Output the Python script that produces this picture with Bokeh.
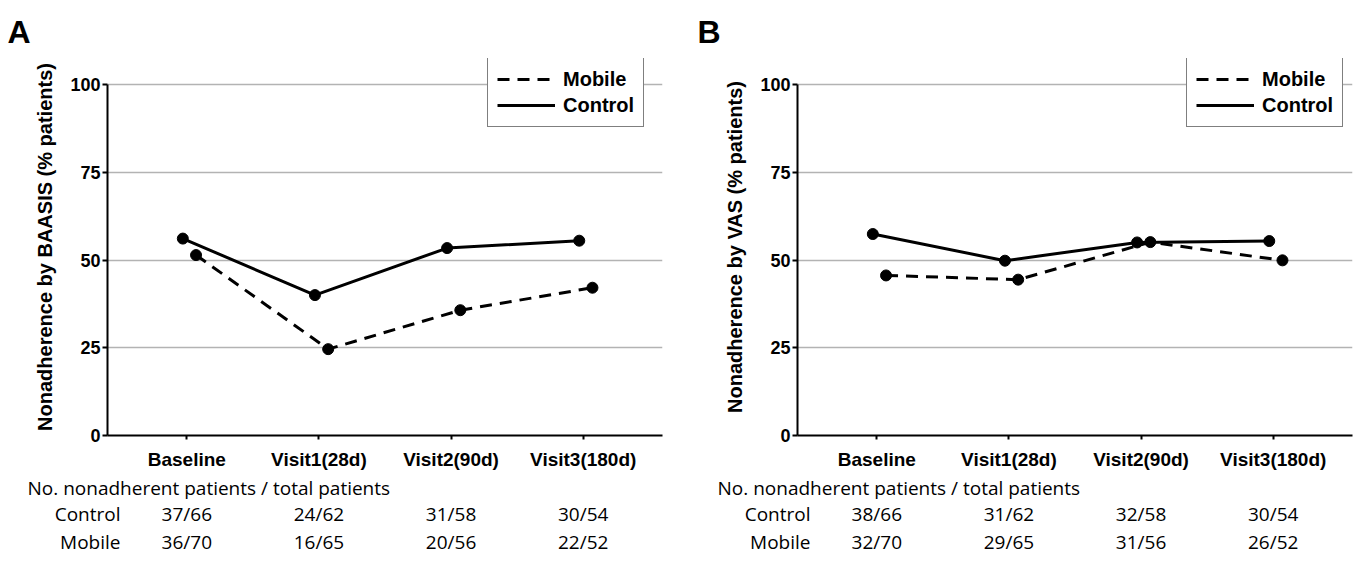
from bokeh.plotting import figure
from bokeh.models import FixedTicker, Legend, LegendItem, Range1d, Title
from bokeh.layouts import row, column
from bokeh.core.properties import value
from bokeh.embed import file_html
from bokeh.resources import INLINE

# ---------------- data ----------------
categories = ["Baseline", "Visit1(28d)", "Visit2(90d)", "Visit3(180d)"]
a_control = [56.1, 40.0, 53.4, 55.5]
a_mobile = [51.4, 24.6, 35.7, 42.1]
b_control = [57.4, 49.8, 55.0, 55.4]
b_mobile = [45.6, 44.4, 55.1, 49.9]
a_control_counts = ["37/66", "24/62", "31/58", "30/54"]
a_mobile_counts = ["36/70", "16/65", "20/56", "22/52"]
b_control_counts = ["38/66", "31/62", "32/58", "30/54"]
b_mobile_counts = ["32/70", "29/65", "31/56", "26/52"]
y_ticks = [0, 25, 50, 75, 100]
series_names = ["Mobile", "Control"]
table_title = "No. nonadherent patients / total patients"
panel_letters = ["A", "B"]
y_titles = ["Nonadherence by BAASIS (% patients)", "Nonadherence by VAS (% patients)"]

BOLD_FONT = "Liberation Sans"
NARROW_FONT = "'Liberation Sans Narrow', 'Liberation Sans'"
TABLE_FONT = "Open Sans"

FIG_W = 678
TOP_BORDER = 58
BOTTOM_BORDER = 37
FRAME_H = 377
CHART_H = TOP_BORDER + FRAME_H + BOTTOM_BORDER
TABLE_H = 569 - CHART_H
TABLE_TOP = 26
X0, X1 = -0.6, 3.6
ROW_Y = [512, 541]          # page rows of the table (Control, Mobile)


def make_panel(letter, ytitle, control, mobile, ctrl_counts, mob_counts,
               min_left, min_right, legend_x):
    y_end = FRAME_H / 3.51
    p = figure(width=FIG_W, height=CHART_H, output_backend="svg", toolbar_location=None,
               x_range=Range1d(X0, X1), y_range=Range1d(0, y_end),
               min_border_left=min_left, min_border_right=min_right,
               min_border_top=TOP_BORDER, min_border_bottom=BOTTOM_BORDER,
               title=letter)
    p.outline_line_color = None
    p.title.align = "left"
    p.title.offset = -100
    p.title.standoff = 18
    p.title.text_font = BOLD_FONT
    p.title.text_font_style = "bold"
    p.title.text_font_size = "32px"
    p.title.text_color = "black"

    p.xgrid.grid_line_color = None
    p.ygrid.ticker = FixedTicker(ticks=y_ticks)
    p.ygrid.grid_line_color = "#b3b3b3"
    p.ygrid.grid_line_width = 1.6

    ya = p.yaxis[0]
    ya.ticker = FixedTicker(ticks=y_ticks)
    ya.bounds = (0, 100)
    ya.axis_line_width = 2
    ya.major_tick_line_width = 2
    ya.major_tick_out = 5
    ya.major_tick_in = 0
    ya.minor_tick_line_color = None
    ya.major_label_text_font = NARROW_FONT
    ya.major_label_text_font_style = "bold"
    ya.major_label_text_font_size = "18px"
    ya.major_label_text_color = "black"
    ya.major_label_standoff = 2
    ya.axis_label = ytitle
    ya.axis_label_text_font = BOLD_FONT
    ya.axis_label_text_font_style = "bold"
    ya.axis_label_text_font_size = "20px"
    ya.axis_label_text_color = "black"
    ya.axis_label_standoff = 11

    xa = p.xaxis[0]
    xa.ticker = FixedTicker(ticks=list(range(len(categories))))
    xa.major_label_overrides = {i: c for i, c in enumerate(categories)}
    xa.axis_line_width = 2
    xa.major_tick_line_width = 2
    xa.major_tick_out = 4
    xa.major_tick_in = 0
    xa.minor_tick_line_color = None
    xa.major_label_text_font = BOLD_FONT
    xa.major_label_text_font_style = "bold"
    xa.major_label_text_font_size = "19px"
    xa.major_label_text_color = "black"
    xa.major_label_standoff = 9

    idx = list(range(len(categories)))
    xc = [i - 0.03 for i in idx]
    xm = [i + 0.07 for i in idx]

    r_ctl = p.line(xc, control, line_color="black", line_width=3)
    p.scatter(xc, control, size=11, color="black")
    r_mob = p.line(xm, mobile, line_color="black", line_width=3, line_dash="12 8")
    p.scatter(xm, mobile, size=11, color="black")

    legend = Legend(items=[LegendItem(label=series_names[0], renderers=[r_mob]),
                           LegendItem(label=series_names[1], renderers=[r_ctl])],
                    location=(legend_x, 308))
    legend.label_text_font = BOLD_FONT
    legend.label_text_font_style = "bold"
    legend.label_text_font_size = "20px"
    legend.label_text_color = "black"
    legend.glyph_width = 58
    legend.glyph_height = 20
    legend.label_height = 24
    legend.label_standoff = 8
    legend.spacing = 2
    legend.padding = 9
    legend.margin = 0
    legend.border_line_color = "black"
    legend.border_line_width = 1.5
    legend.background_fill_alpha = 1.0
    p.add_layout(legend)

    # ---- table ----
    frame_top = CHART_H + TABLE_TOP
    tab = figure(width=FIG_W, height=TABLE_H, output_backend="svg", toolbar_location=None,
                 x_range=Range1d(X0, X1), y_range=Range1d(569, frame_top),
                 min_border_left=min_left, min_border_right=min_right,
                 min_border_top=TABLE_TOP, min_border_bottom=0, x_axis_location=None)
    tab.outline_line_color = None
    tab.grid.visible = False
    tab.add_layout(Title(text=table_title, align="left", offset=-80, text_font=TABLE_FONT,
                         text_font_style="normal", text_font_size="19px", text_color="black",
                         standoff=0), "above")
    ty = tab.yaxis[0]
    ty.ticker = FixedTicker(ticks=ROW_Y)
    ty.major_label_overrides = {ROW_Y[0]: series_names[1], ROW_Y[1]: series_names[0]}
    ty.axis_line_color = None
    ty.major_tick_line_color = None
    ty.minor_tick_line_color = None
    ty.major_tick_out = 0
    ty.major_tick_in = 0
    ty.major_label_standoff = -13
    ty.major_label_text_font = TABLE_FONT
    ty.major_label_text_font_style = "normal"
    ty.major_label_text_font_size = "19px"
    ty.major_label_text_color = "black"

    tfont = dict(text_font=value(TABLE_FONT), text_font_size="19px", text_color="black",
                 text_baseline="middle", text_align="center")
    tab.text(x=idx, y=[ROW_Y[0]] * len(idx), text=ctrl_counts, **tfont)
    tab.text(x=idx, y=[ROW_Y[1]] * len(idx), text=mob_counts, **tfont)

    return column(p, tab)


colA = make_panel(panel_letters[0], y_titles[0], a_control, a_mobile, a_control_counts,
                  a_mobile_counts, 107, 16, 380)
colB = make_panel(panel_letters[1], y_titles[1], b_control, b_mobile, b_control_counts,
                  b_mobile_counts, 119, 4, 389)

layout = row(colA, colB)
open("out.html", "w").write(file_html(layout, INLINE))
